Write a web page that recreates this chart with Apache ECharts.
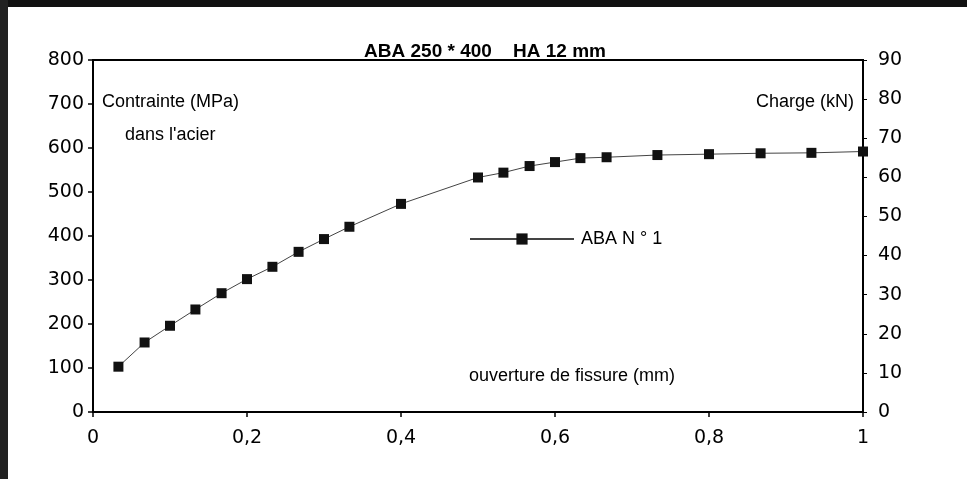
<!DOCTYPE html>
<html>
<head>
<meta charset="utf-8">
<script src="https://cdn.jsdelivr.net/npm/echarts@6/dist/echarts.min.js"></script>
<style>
html,body{margin:0;padding:0;background:#fff;}
#c{width:967px;height:479px;}
</style>
</head>
<body>
<div id="c"></div>
<script>
const titleText = 'ABA 250 * 400    HA 12 mm';
const seriesName = 'ABA N ° 1';
const opening = [0.033,0.067,0.1,0.133,0.167,0.2,0.233,0.267,0.3,0.333,0.4,0.5,0.533,0.567,0.6,0.633,0.667,0.733,0.8,0.867,0.933,1.0];
const stress = [103,158,196,233,270,302,330,364,393,421,473,533,544,559,568,577,579,584,586,588,589,592];
const xTicks = [0,0.2,0.4,0.6,0.8,1];
const leftTicks = [0,100,200,300,400,500,600,700,800];
const rightTicks = [0,10,20,30,40,50,60,70,80,90];

const FONT = '"Liberation Sans", Arial, Helvetica, sans-serif';
const NUMFONT = '"DejaVu Sans", "Liberation Sans", sans-serif';
const chart = echarts.init(document.getElementById('c'), null, {renderer:'canvas'});
const axisLabelStyle = {color:'#000', fontFamily:NUMFONT, fontSize:19};
chart.setOption({
  animation:false,
  backgroundColor:'#fff',
  title:{text:titleText, left:480, top:37, textAlign:'center',
    textStyle:{fontFamily:FONT, fontWeight:'bold', fontSize:19, color:'#000'}},
  grid:{left:93, right:104, top:60, bottom:67, show:true, borderColor:'#000', borderWidth:2, backgroundColor:'transparent'},
  legend:{data:[seriesName], left:464, top:225, itemWidth:104, itemHeight:14, itemGap:8,
    textStyle:{fontFamily:FONT, fontSize:18, color:'#000', padding:[8,0,0,2]}},
  xAxis:{type:'value', min:0, max:1, interval:0.2,
    axisLine:{show:true, onZero:false, lineStyle:{color:'#000', width:2}},
    axisTick:{show:true, inside:false, length:5, lineStyle:{color:'#000', width:1.5}},
    splitLine:{show:false},
    axisLabel:{...axisLabelStyle, margin:17, formatter:v=>String(v).replace('.',',')}},
  yAxis:[
    {type:'value', min:0, max:800, interval:100, position:'left',
      axisLine:{show:true, lineStyle:{color:'#000', width:2}},
      axisTick:{show:true, inside:false, length:5, lineStyle:{color:'#000', width:1.5}},
      splitLine:{show:false},
      axisLabel:{...axisLabelStyle, margin:9}},
    {type:'value', min:0, max:90, interval:10, position:'right',
      axisLine:{show:true, lineStyle:{color:'#000', width:2}},
      axisTick:{show:true, inside:false, length:4, lineStyle:{color:'#000', width:1}},
      splitLine:{show:false},
      axisLabel:{...axisLabelStyle, margin:15}}
  ],
  series:[{
    name:seriesName, type:'line', yAxisIndex:0,
    data:opening.map((x,i)=>[x,stress[i]]),
    symbol:'rect', symbolSize:10,
    itemStyle:{color:'#111'},
    lineStyle:{color:'#444', width:1},
    z:5
  }],
  graphic:[
    {type:'rect', left:0, top:0, shape:{width:967, height:7}, style:{fill:'#111'}},
    {type:'rect', left:0, top:0, shape:{width:8, height:479}, style:{fill:'#222'}},
    {type:'text', left:102, top:93, style:{text:'Contrainte (MPa)', font:'18px '+FONT, fill:'#000'}},
    {type:'text', left:125, top:126, style:{text:"dans l'acier", font:'18px '+FONT, fill:'#000'}},
    {type:'text', right:113, top:93, style:{text:'Charge (kN)', font:'18px '+FONT, fill:'#000'}},
    {type:'text', left:469, top:367, style:{text:'ouverture de fissure (mm)', font:'18px '+FONT, fill:'#000'}}
  ]
});
</script>
</body>
</html>
